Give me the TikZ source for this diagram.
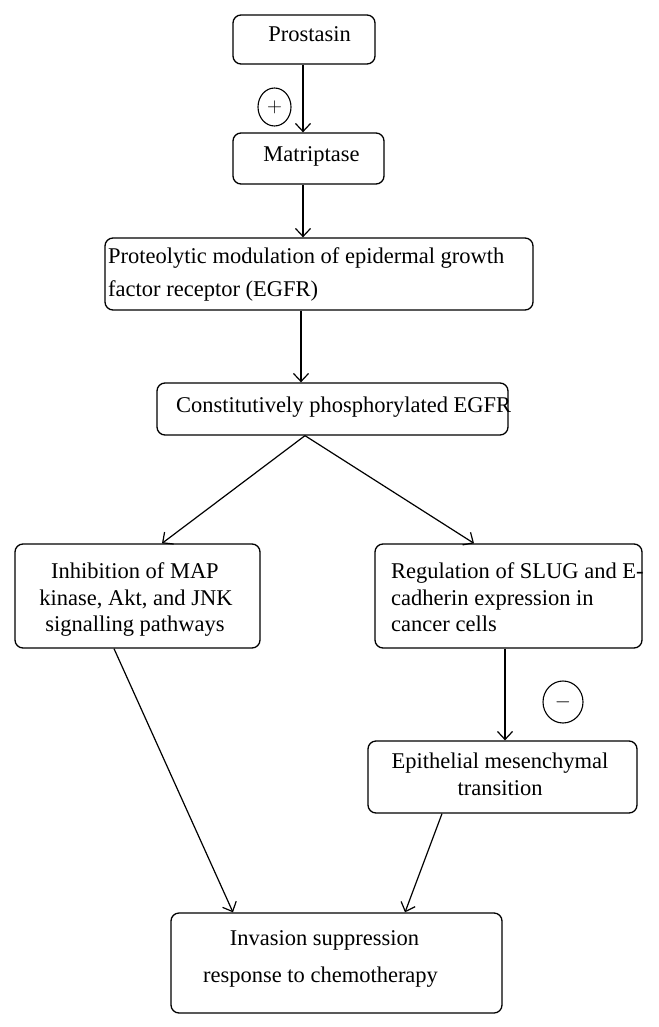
\documentclass[tikz,border=0pt]{standalone}
\usepackage{fontspec}
\setmainfont{Liberation Serif}
\usetikzlibrary{arrows.meta,shapes.geometric}
\begin{document}
\begin{tikzpicture}[x=1pt,y=-1pt,
  box/.style={draw, rounded corners=8pt, line width=1.3pt, inner sep=0pt},
  txt/.style={inner sep=0pt, font=\fontsize{22.5}{27}\selectfont},
  sign/.style={draw, ellipse, line width=1.1pt, inner sep=0pt, font=\fontsize{20}{20}\selectfont},
  arr/.style={line width=1.2pt, -{Straight Barb[length=8pt,width=15pt,line width=1.2pt]}}]
\useasboundingbox (0,0) rectangle (658,1027);
% boxes
\node[box, minimum width=142pt, minimum height=49pt] (prost) at (304,39.5) {};
\node[box, minimum width=151pt, minimum height=51pt] (mat) at (308.5,158.5) {};
\node[box, minimum width=428pt, minimum height=72pt] (prot) at (319,274) {};
\node[box, minimum width=351pt, minimum height=52pt] (cons) at (332.5,409) {};
\node[box, minimum width=245pt, minimum height=104pt] (inh) at (137.5,596) {};
\node[box, minimum width=267pt, minimum height=104pt] (reg) at (508.5,596) {};
\node[box, minimum width=269pt, minimum height=72pt] (epi) at (502.5,777) {};
\node[box, minimum width=331pt, minimum height=100pt] (inv) at (336.5,963) {};
% texts
\node[txt, anchor=base] (tprost) at (309.5,42) {Prostasin};
\node[txt, anchor=base] (tmat) at (311.5,162) {Matriptase};
\node[txt, anchor=base west] (tprot1) at (108,263) {Proteolytic modulation of epidermal growth};
\node[txt, anchor=base west] (tprot2) at (108,296) {factor receptor (EGFR)};
\node[txt, anchor=base west] (tcons) at (176,412) {Constitutively phosphorylated EGFR};
\node[txt, anchor=base] (tinh1) at (135,578) {Inhibition of MAP};
\node[txt, anchor=base] (tinh2) at (136,605) {kinase, Akt, and JNK};
\node[txt, anchor=base] (tinh3) at (135,631) {signalling pathways};
\node[txt, anchor=base west] (treg1) at (391,578) {Regulation of SLUG and E-};
\node[txt, anchor=base west] (treg2) at (391,605) {cadherin expression in};
\node[txt, anchor=base west] (treg3) at (391,631) {cancer cells};
\node[txt, anchor=base] (tepi1) at (500,768) {Epithelial mesenchymal};
\node[txt, anchor=base] (tepi2) at (500,795) {transition};
\node[txt, anchor=base] (tinv1) at (324.5,945) {Invasion suppression};
\node[txt, anchor=base] (tinv2) at (320.5,982) {response to chemotherapy};
% signs
\node[sign, minimum width=33pt, minimum height=38pt] (plus) at (274.5,107) {$+$};
\node[sign, minimum width=40pt, minimum height=42pt] (minus) at (563,702) {$-$};
% connectors
\draw[arr] ([xshift=-1pt]prost.south) -- ([xshift=-1pt]prost.south |- mat.north);
\draw[arr] ([xshift=-5.5pt]mat.south) -- ([xshift=-5.5pt]mat.south |- prot.north);
\draw[arr] ([xshift=-18pt]prot.south) -- ([xshift=-18pt]prot.south |- cons.north);
\draw[arr] ([xshift=-27.5pt]cons.south) -- ([xshift=24.5pt]inh.north);
\draw[arr] ([xshift=-27.5pt]cons.south) -- ([xshift=-34.5pt]reg.north);
\draw[arr] ([xshift=-3.5pt]reg.south) -- ([xshift=-3.5pt]reg.south |- epi.north);
\draw[arr] ([xshift=-23.5pt]inh.south) -- ([xshift=-103.5pt]inv.north);
\draw[arr] ([xshift=-60.5pt]epi.south) -- ([xshift=68.5pt]inv.north);
\end{tikzpicture}
\end{document}
